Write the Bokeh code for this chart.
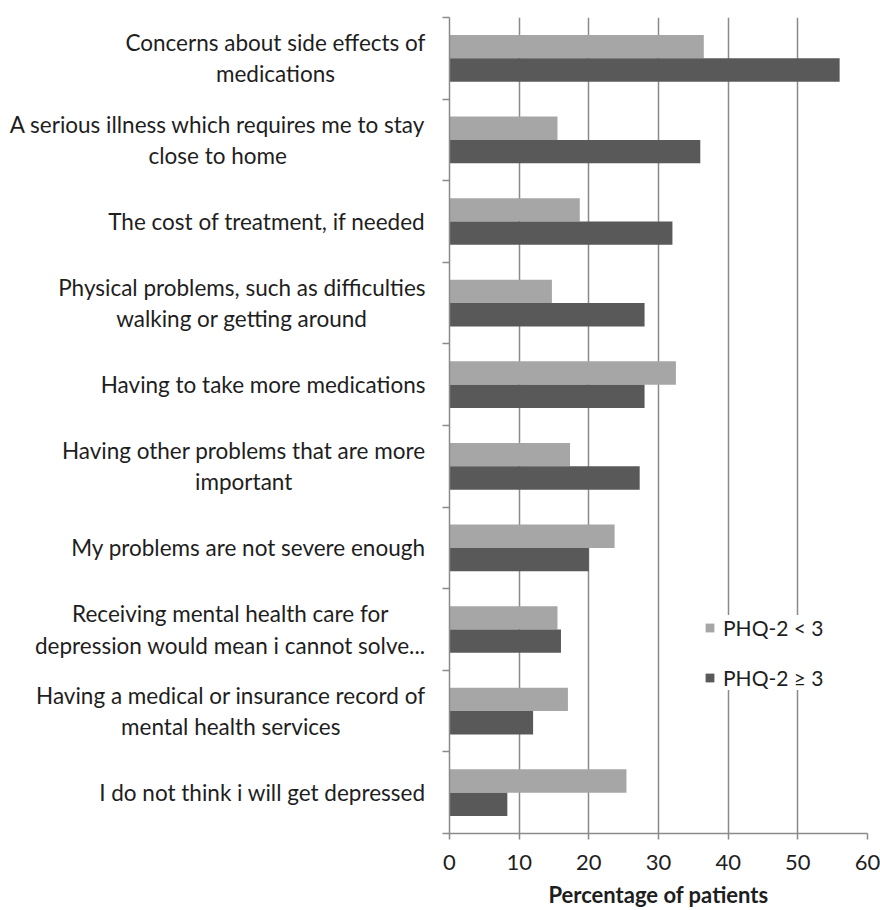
from bokeh.plotting import figure
from bokeh.layouts import row
from bokeh.models import (Legend, LegendItem, FixedTicker, ColumnDataSource, Range1d)
from bokeh.core.properties import value
from bokeh.embed import file_html
from bokeh.resources import INLINE

# ---- data (top to bottom) ----
categories = [
    "Concerns about side effects of\nmedications",
    "A serious illness which requires me to stay\nclose to home",
    "The cost of treatment, if needed",
    "Physical problems, such as difficulties\nwalking or getting around",
    "Having to take more medications",
    "Having other problems that are more\nimportant",
    "My problems are not severe enough",
    "Receiving mental health care for\ndepression would mean i cannot solve...",
    "Having a medical or insurance record of\nmental health services",
    "I do not think i will get depressed",
]
phq_low = [36.5, 15.5, 18.7, 14.7, 32.5, 17.3, 23.7, 15.5, 17.0, 25.4]    # PHQ-2 < 3
phq_high = [56.0, 36.0, 32.0, 28.0, 28.0, 27.3, 20.0, 16.0, 12.0, 8.3]    # PHQ-2 >= 3
series_names = ["PHQ-2 < 3", "PHQ-2 \u2265 3"]
x_ticks = [0, 10, 20, 30, 40, 50, 60]
x_title = "Percentage of patients"

# ---- style ----
FONT = "Lato"
LIGHT = "#a6a6a6"
DARK = "#595959"
GRID = "#8a8a8a"
TEXT = "#1e1e1e"
H = 910
TOP = 17
BOTTOM = 77
AXIS_W = 7
LEFT_W = 449 - AXIS_W

n = len(categories)
centers = [n - 0.5 - i for i in range(n)]
bar_h = 0.286
yr = Range1d(0, n)

src = ColumnDataSource(dict(
    y_low=[c + bar_h / 2 for c in centers],
    y_high=[c - bar_h / 2 for c in centers],
    low=phq_low, high=phq_high,
))

# ---- main plot ----
p = figure(width=880 - LEFT_W, height=H, x_range=(0, 60), y_range=yr,
           output_backend="svg", toolbar_location=None,
           min_border_left=0, min_border_right=13,
           min_border_top=TOP, min_border_bottom=BOTTOM)
p.outline_line_color = None

r1 = p.hbar(y="y_low", right="low", left=0, height=bar_h, source=src,
            fill_color=LIGHT, line_color=None)
r2 = p.hbar(y="y_high", right="high", left=0, height=bar_h, source=src,
            fill_color=DARK, line_color=None)

p.ygrid.visible = False
p.xgrid.ticker = FixedTicker(ticks=x_ticks)
p.xgrid.grid_line_color = GRID
p.xgrid.grid_line_width = 1.5

xa = p.xaxis[0]
xa.ticker = FixedTicker(ticks=x_ticks)
xa.axis_line_color = GRID
xa.axis_line_width = 1.5
xa.major_tick_line_color = GRID
xa.major_tick_line_width = 1.5
xa.major_tick_in = 0
xa.major_tick_out = 6
xa.minor_tick_line_color = None
xa.major_label_text_font = FONT
xa.major_label_text_font_size = "22px"
xa.major_label_text_color = TEXT
xa.major_label_standoff = 15
xa.axis_label = x_title
xa.axis_label_text_font = FONT
xa.axis_label_text_font_style = "bold"
xa.axis_label_text_font_size = "22px"
xa.axis_label_text_color = TEXT
xa.axis_label_standoff = 8

# y axis: ticks at category boundaries, no labels
ya = p.yaxis[0]
ya.ticker = FixedTicker(ticks=list(range(n + 1)))
ya.axis_line_color = GRID
ya.axis_line_width = 1.5
ya.major_tick_line_color = GRID
ya.major_tick_line_width = 1.5
ya.major_tick_in = 0
ya.major_tick_out = AXIS_W
ya.minor_tick_line_color = None
ya.major_label_overrides = {i: "" for i in range(n + 1)}
ya.major_label_standoff = 0

legend = Legend(items=[LegendItem(label=series_names[0], renderers=[r1]),
                       LegendItem(label=series_names[1], renderers=[r2])],
                location=(255, 143), glyph_width=11, glyph_height=11,
                label_height=20, spacing=25, padding=12, margin=0,
                label_standoff=8, border_line_color=None,
                background_fill_color="white", background_fill_alpha=1.0,
                label_text_font=FONT, label_text_font_size="21px",
                label_text_color=TEXT)
p.add_layout(legend)

# ---- left panel: category labels ----
left = figure(width=LEFT_W, height=H, x_range=(0, LEFT_W), y_range=yr,
              output_backend="svg", toolbar_location=None,
              min_border_left=0, min_border_right=0,
              min_border_top=TOP, min_border_bottom=BOTTOM)
left.outline_line_color = None
left.grid.visible = False
left.xaxis.visible = False
left.yaxis.visible = False

lab_src = ColumnDataSource(dict(x=[425] * n, y=centers, text=categories))
left.text(x="x", y="y", text="text", source=lab_src,
          text_align="center", anchor="center_right", text_baseline="middle",
          text_font=value(FONT), text_font_size="22.5px",
          text_color=TEXT, text_line_height=1.15)

layout = row(left, p, spacing=0)
open("out.html", "w").write(file_html(layout, INLINE))
